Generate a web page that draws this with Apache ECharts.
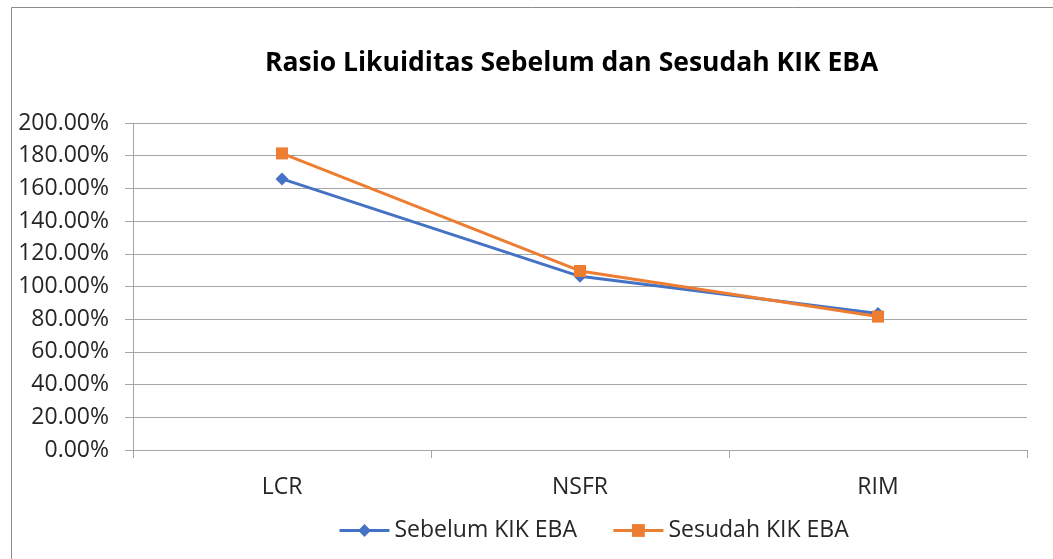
<!DOCTYPE html>
<html><head><meta charset="utf-8">
<script src="https://cdn.jsdelivr.net/npm/echarts@6/dist/echarts.min.js"></script>
<style>html,body{margin:0;padding:0;background:#fff}#c{width:1053px;height:559px}</style>
</head><body><div id="c"></div>
<script>
const categories = ['LCR', 'NSFR', 'RIM'];
const sebelum = [165.8, 106.2, 83.5];
const sesudah = [181.4, 109.5, 81.6];
const yTicks = [0, 20, 40, 60, 80, 100, 120, 140, 160, 180, 200];
const titleText = 'Rasio Likuiditas Sebelum dan Sesudah KIK EBA';
const seriesNames = ['Sebelum KIK EBA', 'Sesudah KIK EBA'];

const font = 'Open Sans';
const chart = echarts.init(document.getElementById('c'));
chart.setOption({
  animation: false,
  backgroundColor: '#fff',
  graphic: [{ type: 'rect', shape: { x: 11.5, y: 7.5, width: 1100, height: 600 }, style: { fill: 'none', stroke: '#8c8c8c', lineWidth: 1 }, z: -1 }],
  title: { text: titleText, left: 260, top: 45, textStyle: { fontFamily: font, fontSize: 26.5, fontWeight: 'bold', color: '#000' } },
  legend: {
    bottom: 12, left: 333, itemWidth: 50, itemHeight: 16, itemGap: 35,
    lineStyle: { width: 3 },
    textStyle: { fontFamily: font, fontSize: 23, color: '#262626' },
    data: seriesNames
  },
  grid: { left: 133, right: 26, top: 123, bottom: 109 },
  xAxis: {
    type: 'category', data: categories, boundaryGap: true,
    axisLine: { lineStyle: { color: '#a6a6a6' } },
    axisTick: { show: true, length: 8, lineStyle: { color: '#a6a6a6' } },
    axisLabel: { fontFamily: font, fontSize: 23, color: '#262626', margin: 26 }
  },
  yAxis: {
    type: 'value', min: 0, max: 200, interval: 20,
    axisLine: { show: true, lineStyle: { color: '#a6a6a6' } },
    axisTick: { show: true, length: 8, lineStyle: { color: '#a6a6a6' } },
    splitLine: { lineStyle: { color: '#a6a6a6' } },
    axisLabel: { fontFamily: font, fontSize: 23, color: '#262626', margin: 24,
      formatter: v => yTicks.includes(v) ? v.toFixed(2) + '%' : '' }
  },
  series: [
    { name: seriesNames[0], type: 'line', data: sebelum, symbol: 'diamond', symbolSize: 13,
      itemStyle: { color: '#4472C4' }, lineStyle: { width: 3, color: '#4472C4' } },
    { name: seriesNames[1], type: 'line', data: sesudah, symbol: 'rect', symbolSize: 12,
      itemStyle: { color: '#ED7D31' }, lineStyle: { width: 3, color: '#ED7D31' } }
  ]
});
</script></body></html>
